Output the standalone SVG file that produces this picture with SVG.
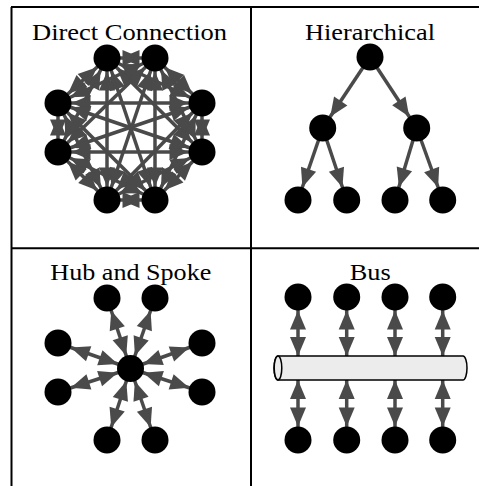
<svg xmlns="http://www.w3.org/2000/svg" width="479" height="486" viewBox="0 0 479 486">
<style>
.frame{stroke:#000;stroke-width:2;fill:none}
.title{font-family:"Times New Roman","Liberation Serif",Times,serif;font-size:23px;fill:#000;text-anchor:middle}
.node{fill:#000}
.e{stroke:#4a4a4a;stroke-width:3.5;fill:none}
.dbl{marker-start:url(#ah);marker-end:url(#ah)}
.one{marker-end:url(#ah)}
.bus{fill:#ececec;stroke:#000;stroke-width:1.5}
</style>
<defs>
<marker id="ah" markerUnits="userSpaceOnUse" markerWidth="19" markerHeight="16" refX="32.5" refY="8" orient="auto-start-reverse" overflow="visible">
<path d="M0,0 L19,8 L0,16 Z" fill="#4a4a4a"/>
</marker>
</defs>
<g id="frame">
<line class="frame" x1="11" y1="7" x2="479" y2="7"/>
<line class="frame" x1="11.5" y1="7" x2="11.5" y2="486"/>
<line class="frame" x1="251" y1="7" x2="251" y2="486"/>
<line class="frame" x1="11" y1="248.3" x2="479" y2="248.3"/>
</g>
<g id="titles">
<text class="title" x="129.5" y="40" textLength="195" lengthAdjust="spacingAndGlyphs">Direct Connection</text>
<text class="title" x="370" y="40" textLength="130" lengthAdjust="spacingAndGlyphs">Hierarchical</text>
<text class="title" x="130.8" y="280" textLength="161" lengthAdjust="spacingAndGlyphs">Hub and Spoke</text>
<text class="title" x="370.3" y="280" textLength="41" lengthAdjust="spacingAndGlyphs">Bus</text>
</g>
<g id="connectors">
<g class="e dbl">
<line x1="107" y1="58" x2="155" y2="58"/>
<line x1="107" y1="58" x2="202" y2="103"/>
<line x1="107" y1="58" x2="202" y2="152"/>
<line x1="107" y1="58" x2="155" y2="200"/>
<line x1="107" y1="58" x2="107" y2="200"/>
<line x1="107" y1="58" x2="58" y2="152"/>
<line x1="107" y1="58" x2="58" y2="103"/>
<line x1="155" y1="58" x2="202" y2="103"/>
<line x1="155" y1="58" x2="202" y2="152"/>
<line x1="155" y1="58" x2="155" y2="200"/>
<line x1="155" y1="58" x2="107" y2="200"/>
<line x1="155" y1="58" x2="58" y2="152"/>
<line x1="155" y1="58" x2="58" y2="103"/>
<line x1="202" y1="103" x2="202" y2="152"/>
<line x1="202" y1="103" x2="155" y2="200"/>
<line x1="202" y1="103" x2="107" y2="200"/>
<line x1="202" y1="103" x2="58" y2="152"/>
<line x1="202" y1="103" x2="58" y2="103"/>
<line x1="202" y1="152" x2="155" y2="200"/>
<line x1="202" y1="152" x2="107" y2="200"/>
<line x1="202" y1="152" x2="58" y2="152"/>
<line x1="202" y1="152" x2="58" y2="103"/>
<line x1="155" y1="200" x2="107" y2="200"/>
<line x1="155" y1="200" x2="58" y2="152"/>
<line x1="155" y1="200" x2="58" y2="103"/>
<line x1="107" y1="200" x2="58" y2="152"/>
<line x1="107" y1="200" x2="58" y2="103"/>
<line x1="58" y1="152" x2="58" y2="103"/>
</g>
<g class="e one">
<line x1="370" y1="57" x2="322.7" y2="128"/>
<line x1="370" y1="57" x2="416.7" y2="128"/>
<line x1="322.7" y1="128" x2="298" y2="200"/>
<line x1="322.7" y1="128" x2="346.7" y2="200"/>
<line x1="416.7" y1="128" x2="395" y2="200"/>
<line x1="416.7" y1="128" x2="442.7" y2="200"/>
</g>
<g class="e dbl">
<line x1="130.5" y1="368.5" x2="107" y2="298"/>
<line x1="130.5" y1="368.5" x2="155" y2="298"/>
<line x1="130.5" y1="368.5" x2="202" y2="343"/>
<line x1="130.5" y1="368.5" x2="202" y2="392"/>
<line x1="130.5" y1="368.5" x2="155" y2="440"/>
<line x1="130.5" y1="368.5" x2="107" y2="440"/>
<line x1="130.5" y1="368.5" x2="58" y2="392"/>
<line x1="130.5" y1="368.5" x2="58" y2="343"/>
</g>
<g class="e dbl">
<line x1="298" y1="297" x2="298" y2="369.5"/>
<line x1="346.7" y1="297" x2="346.7" y2="369.5"/>
<line x1="395" y1="297" x2="395" y2="369.5"/>
<line x1="442.7" y1="297" x2="442.7" y2="369.5"/>
<line x1="298" y1="366.5" x2="298" y2="440"/>
<line x1="346.7" y1="366.5" x2="346.7" y2="440"/>
<line x1="395" y1="366.5" x2="395" y2="440"/>
<line x1="442.7" y1="366.5" x2="442.7" y2="440"/>
</g>
</g>
<g id="direct-nodes" class="node">
<circle id="d1" cx="107" cy="58" r="13.5"/>
<circle id="d2" cx="155" cy="58" r="13.5"/>
<circle id="d3" cx="202" cy="103" r="13.5"/>
<circle id="d4" cx="202" cy="152" r="13.5"/>
<circle id="d5" cx="155" cy="200" r="13.5"/>
<circle id="d6" cx="107" cy="200" r="13.5"/>
<circle id="d7" cx="58" cy="152" r="13.5"/>
<circle id="d8" cx="58" cy="103" r="13.5"/>
</g>
<g id="hier-nodes" class="node">
<circle id="h-root" cx="370" cy="57" r="13.5"/>
<circle id="h-l" cx="322.7" cy="128" r="13.5"/>
<circle id="h-r" cx="416.7" cy="128" r="13.5"/>
<circle id="h-ll" cx="298" cy="200" r="13.5"/>
<circle id="h-lr" cx="346.7" cy="200" r="13.5"/>
<circle id="h-rl" cx="395" cy="200" r="13.5"/>
<circle id="h-rr" cx="442.7" cy="200" r="13.5"/>
</g>
<g id="hub-nodes" class="node">
<circle id="hub" cx="130.5" cy="368.5" r="13.5"/>
<circle id="s1" cx="107" cy="298" r="13.5"/>
<circle id="s2" cx="155" cy="298" r="13.5"/>
<circle id="s3" cx="202" cy="343" r="13.5"/>
<circle id="s4" cx="202" cy="392" r="13.5"/>
<circle id="s5" cx="155" cy="440" r="13.5"/>
<circle id="s6" cx="107" cy="440" r="13.5"/>
<circle id="s7" cx="58" cy="392" r="13.5"/>
<circle id="s8" cx="58" cy="343" r="13.5"/>
</g>
<g id="bus-line">
<path class="bus" d="M278,356 L463,356 A4,12 0 0 1 463,380 L278,380 A4,12 0 0 1 278,356 Z"/>
<ellipse class="bus" cx="278" cy="368" rx="3.8" ry="12"/>
</g>
<g id="bus-nodes" class="node">
<circle id="b1" cx="298" cy="297" r="13.5"/>
<circle id="b2" cx="346.7" cy="297" r="13.5"/>
<circle id="b3" cx="395" cy="297" r="13.5"/>
<circle id="b4" cx="442.7" cy="297" r="13.5"/>
<circle id="b5" cx="298" cy="440" r="13.5"/>
<circle id="b6" cx="346.7" cy="440" r="13.5"/>
<circle id="b7" cx="395" cy="440" r="13.5"/>
<circle id="b8" cx="442.7" cy="440" r="13.5"/>
</g>
</svg>
